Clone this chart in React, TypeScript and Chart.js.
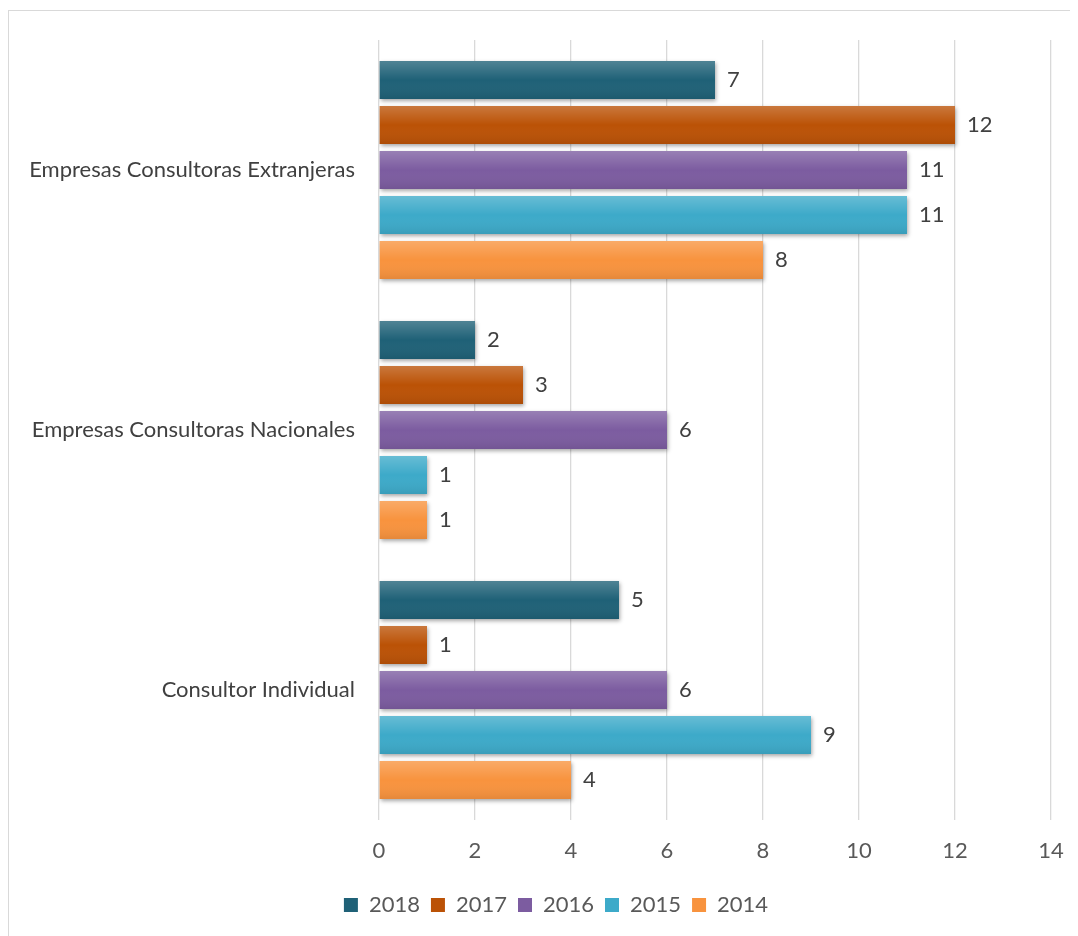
import React, { useEffect, useRef } from "react";
import { Chart, registerables } from "chart.js";

Chart.register(...registerables);

const categories = [
  "Empresas Consultoras Extranjeras",
  "Empresas Consultoras Nacionales",
  "Consultor Individual",
];
const seriesNames = ["2018", "2017", "2016", "2015", "2014"];
const values2018 = [7, 2, 5];
const values2017 = [12, 3, 1];
const values2016 = [11, 6, 6];
const values2015 = [11, 1, 9];
const values2014 = [8, 1, 4];
const seriesValues = [values2018, values2017, values2016, values2015, values2014];
const seriesColors = ["#1f6177", "#bb5206", "#7c5ca0", "#3daac9", "#f8933e"];
const xTicks = [0, 2, 4, 6, 8, 10, 12, 14];

const FONT = "Lato, 'Open Sans', sans-serif";
const FS = 22;

const barStyle = {
  id: "barStyle",
  beforeDatasetsDraw(chart: any) {
    const ctx = chart.ctx;
    ctx.save();
    ctx.shadowColor = "rgba(0,0,0,0.35)";
    ctx.shadowBlur = 4;
    ctx.shadowOffsetX = 1;
    ctx.shadowOffsetY = 2;
  },
  afterDatasetsDraw(chart: any) {
    const ctx = chart.ctx;
    ctx.restore();
    ctx.save();
    chart.data.datasets.forEach((ds: any, di: number) => {
      const meta = chart.getDatasetMeta(di);
      meta.data.forEach((el: any, i: number) => {
        const { x, y, base, height } = el.getProps(["x", "y", "base", "height"], true);
        const top = y - height / 2;
        const g = ctx.createLinearGradient(0, top, 0, top + height);
        g.addColorStop(0, "rgba(255,255,255,0.22)");
        g.addColorStop(0.5, "rgba(255,255,255,0.0)");
        g.addColorStop(1, "rgba(0,0,0,0.08)");
        ctx.fillStyle = g;
        ctx.fillRect(base, top, x - base, height);
        ctx.fillStyle = "#404040";
        ctx.font = `${FS}px ${FONT}`;
        ctx.textAlign = "left";
        ctx.textBaseline = "middle";
        ctx.fillText(String(ds.data[i]), x + 12, y);
      });
    });
    ctx.restore();
  },
};

export default function App() {
  const ref = useRef<HTMLCanvasElement>(null);
  useEffect(() => {
    if (!ref.current) return;
    const chart = new Chart(ref.current, {
      type: "bar",
      data: {
        labels: categories,
        datasets: seriesNames.map((name, i) => ({
          label: name,
          data: seriesValues[i],
          backgroundColor: seriesColors[i],
          borderWidth: 0,
          barPercentage: 0.845,
          categoryPercentage: 0.865,
        })),
      },
      options: {
        indexAxis: "y",
        responsive: false,
        animation: false,
        layout: { padding: { top: 29, right: 0, left: 0, bottom: 33 } },
        plugins: {
          legend: {
            position: "bottom",
            labels: {
              boxWidth: 14,
              boxHeight: 14,
              padding: 11,
              color: "#595959",
              font: { family: FONT, size: FS },
            },
          },
          tooltip: { enabled: false },
          title: { display: false },
        },
        scales: {
          x: {
            min: 0,
            max: 14,
            afterBuildTicks(scale: any) {
              scale.ticks = xTicks.map((v) => ({ value: v }));
            },
            afterFit(scale: any) {
              scale.height = 63;
              scale.paddingRight = 52;
            },
            grid: { color: "#d9d9d9", lineWidth: 1.3, drawTicks: false },
            border: { display: false },
            ticks: {
              color: "#595959",
              padding: 17.6,
              font: { family: FONT, size: FS },
            },
          },
          y: {
            afterFit(scale: any) {
              scale.width = 370;
              scale.paddingTop = 0;
              scale.paddingBottom = 0;
            },
            grid: { display: false, drawTicks: false },
            border: { display: false },
            ticks: {
              color: "#404040",
              padding: 24,
              font: { family: FONT, size: FS },
            },
          },
        },
      },
      plugins: [barStyle],
    });
    return () => chart.destroy();
  }, []);
  return (
    <div style={{ marginTop: 2, width: 1070, height: 926, overflow: "hidden" }}>
      <div
        style={{
          width: 1096,
          height: 950,
          border: "1px solid #d9d9d9",
          boxSizing: "border-box",
          background: "#fff",
        }}
      >
        <canvas ref={ref} width={1094} height={948} style={{ display: "block" }} />
      </div>
    </div>
  );
}
